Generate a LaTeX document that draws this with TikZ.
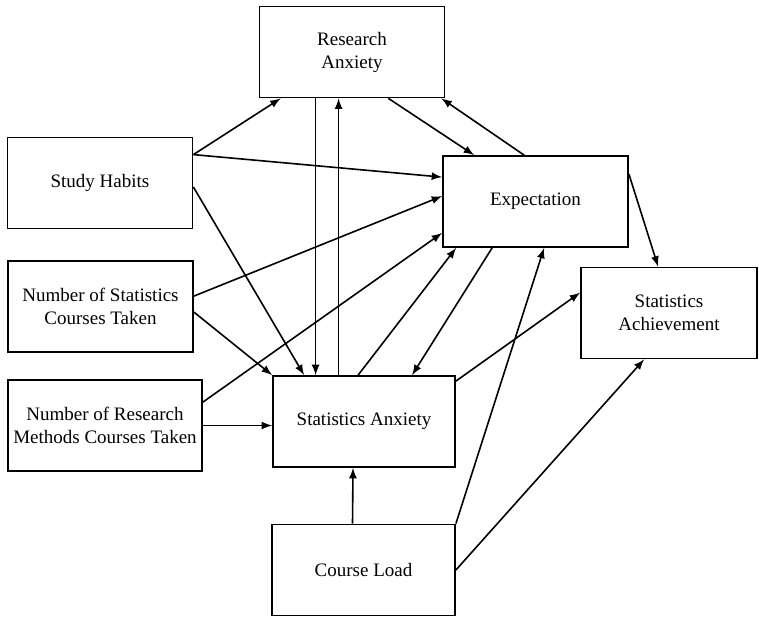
\documentclass[tikz,border=0pt]{standalone}
\usepackage{fontspec}
\setmainfont{Liberation Serif}
\usepackage{tikz}
\usetikzlibrary{arrows}
\tikzstyle{arrow}=[-latex,line width=.8pt,draw=black]
\tikzstyle{block}=[draw,line width=.9pt,rectangle,inner sep=0pt,align=center,
minimum width=92.5pt,minimum height=45.5pt,font=\fontsize{9.5}{11.5}\selectfont]

\begin{document}
\begin{tikzpicture}[x=.5pt, y=-.5pt]

	\useasboundingbox (0,0) rectangle (759,617);
	%boxes
	\node[block] (ra) at (352,52) {Research\\Anxiety};
	\node[block] (sh) at (100,183) {Study Habits};
	\node[block] (exp) at (535.5,201.5) {Expectation};
	\node[block] (ns) at (100.5,306.5) {Number of Statistics\\Courses Taken};
	\node[block,minimum width=88pt] (sach) at (669,313) {Statistics\\Achievement};
	\node[block,minimum width=97pt] (nr) at (105,425.5) {Number of Research\\Methods Courses Taken};
	\node[block,minimum width=91pt] (sa) at (364,421.5) {Statistics Anxiety};
	\node[block,minimum width=91.5pt] (cl) at (363.5,570) {Course Load};

	%vertical links
	\coordinate (ra1) at ([xshift=28.5pt]ra.south west);
	\coordinate (ra2) at ([xshift=40pt]ra.south west);
	\draw[arrow] (ra1) -- (ra1 |- sa.north);
	\draw[arrow] (ra2 |- sa.north) -- (ra2);
	\draw[arrow] ([xshift=-5.5pt]cl.north) -- ([xshift=-5.5pt]sa.south);

	%study habits
	\draw[arrow] ([yshift=-9pt]sh.north east) -- ([xshift=11pt]ra.south west);
	\draw[arrow] ([yshift=-9pt]sh.north east) -- ([yshift=-11pt]exp.north west);
	\draw[arrow] ([yshift=-2pt]sh.east) -- ([xshift=16pt]sa.north west);

	%courses taken
	\draw[arrow] ([yshift=-18pt]ns.north east) -- ([yshift=-20.5pt]exp.north west);
	\draw[arrow] ([yshift=-26pt]ns.north east) -- (sa.north west);
	\draw[arrow] ([yshift=-11.5pt]nr.north east) -- ([yshift=7.5pt]exp.south west);
	\draw[arrow] (nr.east) -- (nr.east -| sa.west);

	%research anxiety and expectation
	\draw[arrow] ([xshift=-28.5pt]ra.south east) -- ([xshift=16pt]exp.north west);
	\draw[arrow] ([xshift=41pt]exp.north west) -- ([xshift=-2pt]ra.south east);
	\draw[arrow] ([xshift=43pt]sa.north west) -- ([xshift=7pt]exp.south west);
	\draw[arrow] ([xshift=25pt]exp.south west) -- ([xshift=70pt]sa.north west);

	%achievement
	\draw[arrow] ([yshift=-9.5pt]exp.north east) -- ([xshift=39pt]sach.north west);
	\draw[arrow] ([yshift=-3pt]sa.north east) -- ([yshift=-13pt]sach.north west);
	\draw[arrow] (cl.north east) -- ([xshift=51pt]exp.south west);
	\draw[arrow] (cl.east) -- ([xshift=32pt]sach.south west);
\end{tikzpicture}
\end{document}
